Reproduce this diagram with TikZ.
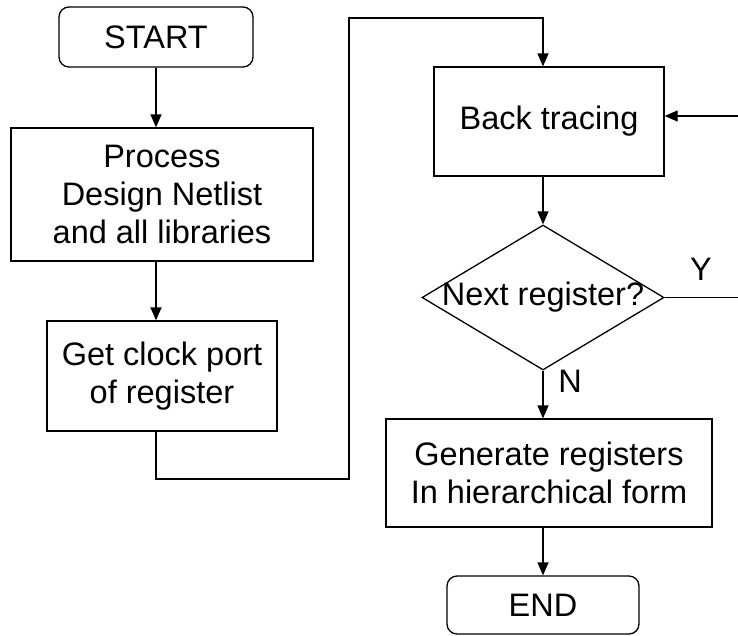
\documentclass[tikz,border=0pt]{standalone}
\usepackage{fontspec}
\setmainfont{Liberation Sans}
\usetikzlibrary{arrows.meta,shapes.geometric}

\begin{document}
\begin{tikzpicture}[x=1pt,y=-1pt,
  every node/.style={font=\fontsize{32.5}{38}\selectfont, align=center, inner sep=0pt},
  box/.style={draw, line width=1.3pt, rectangle},
  terminal/.style={box, rounded corners=10pt},
  decision/.style={draw, line width=1.3pt, diamond},
  conn/.style={line width=1.3pt},
  arr/.style={conn, -{Triangle[length=13pt,width=11pt]}}]

  \clip (0,0) rectangle (738,635);

  % left column
  \node[terminal, minimum width=194pt, minimum height=60pt] (start) at (156,37) {START};
  \node[box, minimum width=302pt, minimum height=133pt] (process) at (162,194.5)
       {Process\\Design Netlist\\and all libraries};
  \node[box, minimum width=230pt, minimum height=110pt] (clock) at (162,376)
       {Get clock port\\of register};

  % right column
  \node[box, minimum width=230pt, minimum height=109pt] (back) at (549,121.5) {Back tracing};
  \node[decision, minimum width=242pt, minimum height=145pt,
        label={center:Next register?}] (dec) at (543,297.5) {};
  \node[box, minimum width=326pt, minimum height=108pt] (gen) at (549,473)
       {Generate registers\\In hierarchical form};
  \node[terminal, minimum width=192pt, minimum height=58pt] (end) at (543,605) {END};

  % branch labels
  \node (ylab) at (701,269) {Y};
  \node (nlab) at (570,381) {N};

  % bends of the long connector and of the loop back
  \coordinate (k2) at (349,479);
  \coordinate (k4) at (543,18);
  \coordinate (r1) at (740,297.5);
  \coordinate (r2) at (740,116);

  % connectors
  \draw[arr] (start.south) -- (process.north -| start.center);
  \draw[arr] (process.south -| start.center) -- (clock.north -| start.center);
  \draw[arr] (clock.south -| start.center) |- (k2) |- (k4) -- (back.north -| k4);
  \draw[arr] (back.south -| dec.center) -- (dec.north);
  \draw[arr] (dec.south) -- (gen.north -| dec.center);
  \draw[arr] (gen.south -| dec.center) -- (end.north);
  \draw[arr] (dec.east) -- (r1) -- (r2) -- (back.east |- r2);
\end{tikzpicture}
\end{document}
